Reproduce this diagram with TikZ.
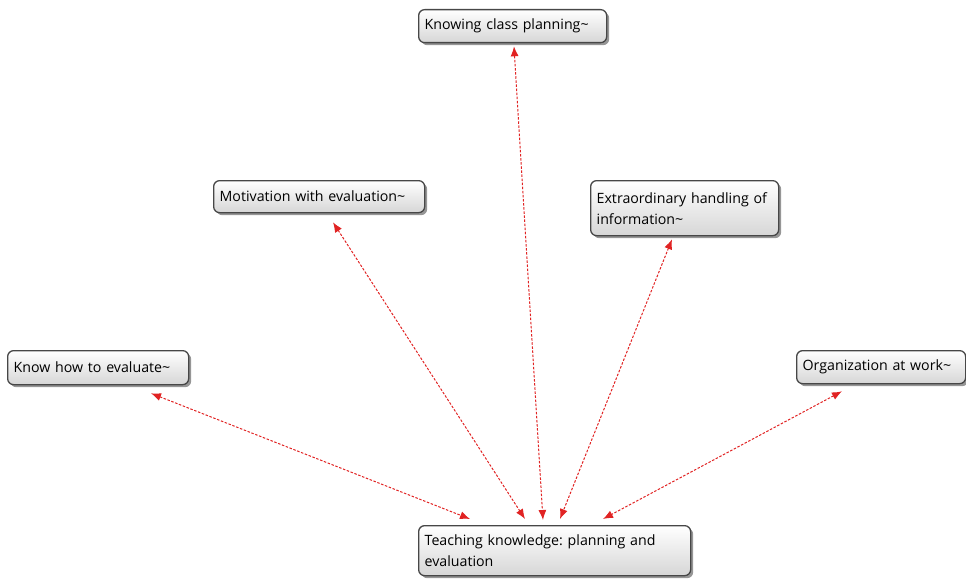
\documentclass[tikz,border=0pt]{standalone}
\usepackage{fontspec}
\setmainfont{Open Sans}
\usetikzlibrary{shadows,calc,arrows.meta}
\frenchspacing
\hyphenpenalty=10000
\exhyphenpenalty=10000
\tikzset{
  box/.style={draw=black!72, line width=1.3pt, rounded corners=6pt,
    top color=white, bottom color=black!16,
    drop shadow={shadow xshift=2.5pt, shadow yshift=-2.5pt, fill=black!55, opacity=0.75},
    anchor=north west, align=left, inner xsep=6pt, inner ysep=0pt,
    font=\fontsize{14.2}{21}\selectfont},
  link/.style={draw={rgb,255:red,225;green,35;blue,35}, line width=1pt, dash pattern=on 2.5pt off 1.6pt,
    {Latex[length=10pt,width=8pt]}-{Latex[length=10pt,width=8pt]}}
}
\begin{document}
\begin{tikzpicture}[x=1pt,y=-1pt]
\useasboundingbox (0,0) rectangle (966,578);
\node[box, text width=176pt, minimum height=33pt] (k) at (418,9) {Knowing class planning\char"007E};
\node[box, text width=199pt, minimum height=32pt] (m) at (213,180) {Motivation with evaluation\char"007E};
\node[box, text width=176pt, minimum height=55pt] (e) at (590,180) {Extraordinary handling of\\information\char"007E};
\node[box, text width=169pt, minimum height=34pt] (h) at (7,350) {Know how to evaluate\char"007E};
\node[box, text width=157pt, minimum height=33pt] (o) at (796,350) {Organization at work\char"007E};
\node[box, text width=260pt, minimum height=50pt] (t) at (418,525) {Teaching knowledge: planning and\\evaluation};
\draw[link] ($(h.south west)+(144,8)$) -- ($(t.north west)+(52,-6)$);
\draw[link] ($(m.south west)+(120,9)$) -- ($(t.north west)+(107,-6)$);
\draw[link] ($(k.south west)+(96,3)$) -- ($(t.north west)+(125,-5)$);
\draw[link] ($(e.south west)+(82,3)$) -- ($(t.north west)+(142,-6)$);
\draw[link] ($(o.south west)+(46,7)$) -- ($(t.north west)+(185,-6)$);
\end{tikzpicture}
\end{document}
